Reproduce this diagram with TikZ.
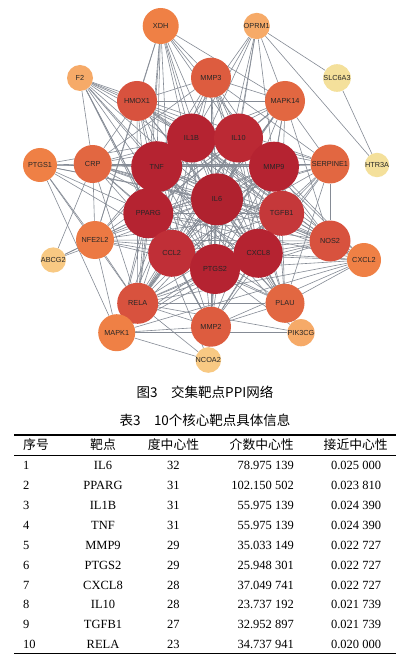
\documentclass[tikz,border=0pt]{standalone}
\usepackage{fontspec}
\setmainfont{Liberation Serif}
\newfontfamily\labfont{Liberation Sans}
\newfontfamily\cjkfont{Noto Sans CJK SC}
\usetikzlibrary{backgrounds}
\definecolor{cA0}{HTML}{B0222F}
\definecolor{cA}{HTML}{B52331}
\definecolor{cA2}{HTML}{BB2934}
\definecolor{cA3}{HTML}{C02F37}
\definecolor{cB}{HTML}{C5383A}
\definecolor{cC}{HTML}{D8523E}
\definecolor{cD}{HTML}{DD5C3F}
\definecolor{cD2}{HTML}{E26741}
\definecolor{cE}{HTML}{EF8045}
\definecolor{cE2}{HTML}{EC7943}
\definecolor{cF}{HTML}{F6AA68}
\definecolor{cG}{HTML}{F8C983}
\definecolor{cH}{HTML}{F4E09B}
\definecolor{edgec}{HTML}{858B95}
\newcommand\numgap{\hspace{0.25em}}
\begin{document}
\begin{tikzpicture}[x=1pt,y=-1pt,
  gene/.style={circle,inner sep=0pt,minimum size=#1,text=black!85,
    font=\labfont\fontsize{7.3}{8}\selectfont},
  link/.style={draw=edgec,line width=0.6pt},
  tcell/.style={inner sep=0pt,anchor=base,font=\fontsize{12.5}{14}\selectfont},
  thead/.style={inner sep=0pt,anchor=base,font=\cjkfont\fontsize{12.8}{14}\selectfont},
  captext/.style={inner sep=0pt,font=\cjkfont\fontsize{13.5}{15}\selectfont}]
\useasboundingbox (0,0) rectangle (414,660);

% ---- nodes
\node[gene=36pt,fill=cE] (XDH) at (160.7,26) {XDH};
\node[gene=25pt,fill=cF] (OPRM1) at (256.7,26) {OPRM1};
\node[gene=26pt,fill=cF] (F2) at (80,78) {F2};
\node[gene=40pt,fill=cD] (MMP3) at (211,77.7) {MMP3};
\node[gene=19pt,fill=cH] (SLC6A3) at (337,78) {SLC6A3};
\node[gene=40pt,fill=cC] (HMOX1) at (137,101) {HMOX1};
\node[gene=40pt,fill=cD2] (MAPK14) at (285,101) {MAPK14};
\node[gene=34pt,fill=cE] (PTGS1) at (40,165) {PTGS1};
\node[gene=38pt,fill=cD2] (CRP) at (92.7,164) {CRP};
\node[gene=39pt,fill=cD2] (SERPINE1) at (330,164) {SERPINE1};
\node[gene=24pt,fill=cH] (HTR3A) at (377,165) {HTR3A};
\node[gene=38pt,fill=cE2] (NFE2L2) at (95,240) {NFE2L2};
\node[gene=41pt,fill=cC] (NOS2) at (330,241) {NOS2};
\node[gene=22pt,fill=cG] (ABCG2) at (53.3,260) {ABCG2};
\node[gene=34pt,fill=cE] (CXCL2) at (364,260) {CXCL2};
\node[gene=41pt,fill=cC] (RELA) at (137.7,303.3) {RELA};
\node[gene=39pt,fill=cD2] (PLAU) at (285,303.3) {PLAU};
\node[gene=40pt,fill=cD] (MMP2) at (211,326.7) {MMP2};
\node[gene=37pt,fill=cE] (MAPK1) at (116.7,332.7) {MAPK1};
\node[gene=27pt,fill=cF] (PIK3CG) at (301,332.7) {PIK3CG};
\node[gene=22pt,fill=cG] (NCOA2) at (208.3,360) {NCOA2};
\node[gene=49pt,fill=cA] (IL1B) at (191.5,138) {IL1B};
\node[gene=49pt,fill=cA2] (IL10) at (238.5,138) {IL10};
\node[gene=50pt,fill=cA] (MMP9) at (274,166.7) {MMP9};
\node[gene=51pt,fill=cA] (TNF) at (156.7,166.7) {TNF};
\node[gene=50pt,fill=cA] (PPARG) at (148.3,213.3) {PPARG};
\node[gene=45pt,fill=cB] (TGFB1) at (281.7,213.3) {TGFB1};
\node[gene=47pt,fill=cA3] (CCL2) at (171.7,253.3) {CCL2};
\node[gene=49pt,fill=cA] (CXCL8) at (258.3,253.3) {CXCL8};
\node[gene=50pt,fill=cA] (PTGS2) at (215,269) {PTGS2};
\node[gene=52pt,fill=cA0] (IL6) at (217,199.3) {IL6};

% ---- edges
\begin{scope}[on background layer]
\fill[white] (0,0) rectangle (414,660);
\foreach \a [count=\i] in {IL6,PPARG,IL1B,TNF,MMP9,PTGS2,CXCL8,IL10,TGFB1,CCL2}{
  \foreach \b [count=\j] in {IL6,PPARG,IL1B,TNF,MMP9,PTGS2,CXCL8,IL10,TGFB1,CCL2}{
    \ifnum\j>\i \draw[link] (\a) -- (\b);\fi}}
\foreach \a in {RELA,HMOX1,MMP3,MAPK14,SERPINE1,NOS2,MMP2,PLAU,CRP,NFE2L2,CXCL2,MAPK1}{
  \foreach \b in {IL6,PPARG,IL1B,TNF,MMP9,PTGS2,CXCL8,IL10,TGFB1,CCL2}{
    \draw[link] (\a) -- (\b);}}
\foreach \a/\b in {XDH/IL1B,XDH/TNF,XDH/IL6,XDH/IL10,XDH/PPARG,XDH/PTGS2,XDH/MMP9,
  XDH/CCL2,XDH/CXCL8,XDH/HMOX1,XDH/NFE2L2,XDH/RELA,XDH/MMP3,XDH/MAPK14,
  PTGS1/CRP,PTGS1/TNF,PTGS1/PPARG,PTGS1/IL6,PTGS1/PTGS2,PTGS1/IL1B,PTGS1/NFE2L2,
  PTGS1/MMP9,PTGS1/RELA,PTGS1/TGFB1,PTGS1/MAPK1,
  F2/CRP,F2/TNF,F2/IL6,F2/IL1B,F2/PPARG,F2/SERPINE1,F2/PLAU,F2/MMP9,F2/CCL2,
  F2/PTGS2,F2/TGFB1,F2/HMOX1,F2/MMP2,
  OPRM1/SLC6A3,OPRM1/HTR3A,OPRM1/MAPK14,OPRM1/IL1B,OPRM1/TNF,OPRM1/IL10,OPRM1/IL6,
  OPRM1/MAPK1,OPRM1/MMP9,OPRM1/PTGS2,SLC6A3/HTR3A,
  ABCG2/NFE2L2,ABCG2/CRP,ABCG2/PPARG,ABCG2/IL6,
  NCOA2/MAPK1,NCOA2/RELA,NCOA2/MMP2,NCOA2/PPARG,NCOA2/IL6,
  PIK3CG/MAPK1,PIK3CG/PLAU,PIK3CG/PTGS2,PIK3CG/IL6,PIK3CG/TNF,PIK3CG/CXCL8,PIK3CG/RELA,
  RELA/MAPK1,RELA/NFE2L2,RELA/MMP2,RELA/HMOX1,RELA/MAPK14,RELA/NOS2,RELA/CRP,RELA/PLAU,
  RELA/CXCL2,HMOX1/MAPK14,HMOX1/NFE2L2,HMOX1/CRP,HMOX1/MMP3,HMOX1/NOS2,
  MMP3/MMP2,MMP3/MAPK14,MMP3/SERPINE1,MMP3/PLAU,MMP3/CRP,MAPK14/MAPK1,MAPK14/SERPINE1,
  MAPK14/NOS2,SERPINE1/NOS2,SERPINE1/PLAU,SERPINE1/CRP,SERPINE1/MMP2,PLAU/MMP2,
  PLAU/CXCL2,NOS2/CXCL2,NOS2/CRP,NOS2/NFE2L2,MMP2/MAPK1,MMP2/CXCL2,CRP/NFE2L2,
  CRP/CXCL2,MAPK1/NFE2L2,MAPK1/CXCL2}{
  \draw[link] (\a) -- (\b);}
\end{scope}

% ---- captions
\node[captext] (cap1) at (205,392.3) {图3\hspace{1em}交集靶点PPI网络};
\node[captext] (cap2) at (205,420) {表3\hspace{1em}10个核心靶点具体信息};

% ---- table
\draw[line width=1.1pt] (14,435) -- (396,435);
\draw[line width=0.6pt] (14,455) -- (396,455);
\draw[line width=1.1pt] (14,653.3) -- (396,653.3);
\node[thead,anchor=base west] (h1) at (23,449.5) {序号};
\node[thead] (h2) at (103,449.5) {靶点};
\node[thead] (h3) at (173.5,449.5) {度中心性};
\node[thead] (h4) at (261.7,449.5) {介数中心性};
\node[thead] (h5) at (355.7,449.5) {接近中心性};
\foreach \n/\g/\d/\b/\c [count=\i] in {
  1/IL6/32/78.975\numgap139/0.025\numgap000,
  2/PPARG/31/102.150\numgap502/0.023\numgap810,
  3/IL1B/31/55.975\numgap139/0.024\numgap390,
  4/TNF/31/55.975\numgap139/0.024\numgap390,
  5/MMP9/29/35.033\numgap149/0.022\numgap727,
  6/PTGS2/29/25.948\numgap301/0.022\numgap727,
  7/CXCL8/28/37.049\numgap741/0.022\numgap727,
  8/IL10/28/23.737\numgap192/0.021\numgap739,
  9/TGFB1/27/32.952\numgap897/0.021\numgap739,
  10/RELA/23/34.737\numgap941/0.020\numgap000}{
  \pgfmathsetmacro\yy{469.5+19.92*(\i-1)}
  \node[tcell,anchor=base west] (r\i c1) at (23,\yy) {\n};
  \node[tcell] (r\i c2) at (103,\yy) {\g};
  \node[tcell] (r\i c3) at (173.3,\yy) {\d};
  \node[tcell,anchor=base east] (r\i c4) at (294,\yy) {\b};
  \node[tcell] (r\i c5) at (356,\yy) {\c};
}
\end{tikzpicture}
\end{document}
